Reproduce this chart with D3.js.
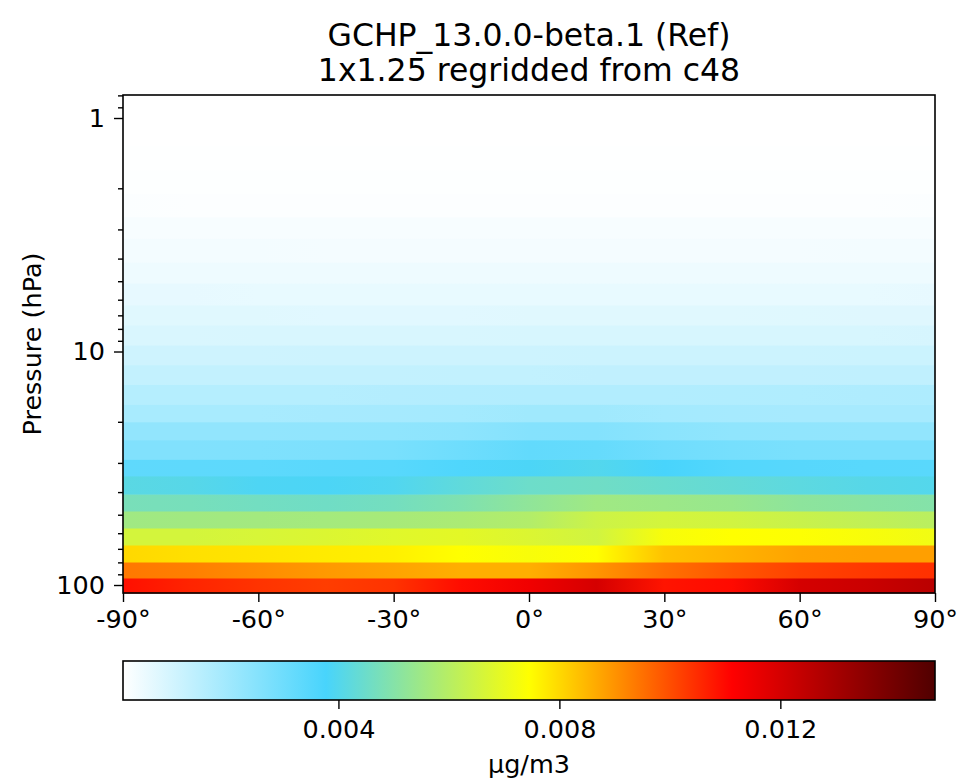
<!DOCTYPE html>
<html>
<head>
<meta charset="utf-8">
<script src="https://cdn.jsdelivr.net/npm/d3@7"></script>
<style>
body { margin: 0; background: #fff; }
text { font-family: "DejaVu Sans", sans-serif; fill: #000; }
</style>
</head>
<body>
<svg id="chart" width="959" height="783"></svg>
<script>
const lats = [-90, -75, -60, -45, -30, -15, 0, 15, 30, 45, 60, 75, 90];

// level edges (hPa), from the bottom up
const pEdges = [108.2, 93.3, 79.7, 67.4, 57.0, 48.2, 40.8, 34.1, 28.9, 23.9, 20.0, 16.8,
  13.8, 11.4, 9.38, 7.70, 6.32, 5.09, 4.14, 3.27, 2.65, 2.10, 1.67, 1.31, 1.02, 0.797];

// zonal mean concentration per level (ug/m3), bottom level first
const lev00 = [0.01091, 0.01061, 0.01039, 0.01024, 0.01039, 0.01095, 0.01142, 0.01201, 0.01083, 0.01098, 0.01201, 0.01223, 0.01260];
const lev01 = [0.00939, 0.00929, 0.00911, 0.00892, 0.00877, 0.00860, 0.00860, 0.00899, 0.00951, 0.00988, 0.01017, 0.01032, 0.01043];
const lev02 = [0.00801, 0.00789, 0.00783, 0.00774, 0.00767, 0.00745, 0.00730, 0.00745, 0.00833, 0.00855, 0.00877, 0.00883, 0.00883];
const lev03 = [0.00657, 0.00657, 0.00664, 0.00672, 0.00683, 0.00689, 0.00672, 0.00650, 0.00730, 0.00745, 0.00741, 0.00730, 0.00716];
const lev04 = [0.00554, 0.00557, 0.00560, 0.00563, 0.00569, 0.00576, 0.00591, 0.00642, 0.00657, 0.00650, 0.00635, 0.00620, 0.00605];
const lev05 = [0.00475, 0.00472, 0.00463, 0.00458, 0.00466, 0.00488, 0.00522, 0.00554, 0.00547, 0.00539, 0.00517, 0.00507, 0.00498];
const lev06 = [0.00414, 0.00407, 0.00389, 0.00386, 0.00395, 0.00425, 0.00451, 0.00458, 0.00444, 0.00433, 0.00419, 0.00407, 0.00401];
const lev07 = [0.00331, 0.00333, 0.00336, 0.00341, 0.00345, 0.00363, 0.00385, 0.00400, 0.00378, 0.00356, 0.00348, 0.00345, 0.00344];
const lev08 = [0.00263, 0.00264, 0.00267, 0.00272, 0.00279, 0.00301, 0.00326, 0.00319, 0.00297, 0.00285, 0.00278, 0.00275, 0.00275];
const lev09 = [0.00229, 0.00229, 0.00229, 0.00230, 0.00232, 0.00238, 0.00255, 0.00258, 0.00242, 0.00233, 0.00230, 0.00229, 0.00229];
const lev10 = [0.00185, 0.00185, 0.00185, 0.00186, 0.00188, 0.00192, 0.00200, 0.00201, 0.00193, 0.00189, 0.00187, 0.00186, 0.00186];
const lev11 = [0.00158, 0.00158, 0.00158, 0.00159, 0.00160, 0.00162, 0.00164, 0.00165, 0.00165, 0.00166, 0.00168, 0.00170, 0.00172];
const lev12 = [0.00130, 0.00130, 0.00131, 0.00131, 0.00131, 0.00132, 0.00133, 0.00134, 0.00134, 0.00134, 0.00135, 0.00136, 0.00137];
const lev13 = [0.00109, 0.00109, 0.00109, 0.00110, 0.00110, 0.00111, 0.00111, 0.00112, 0.00112, 0.00112, 0.00113, 0.00114, 0.00114];
const lev14 = [0.00087, 0.00087, 0.00088, 0.00088, 0.00089, 0.00089, 0.00090, 0.00090, 0.00090, 0.00090, 0.00091, 0.00091, 0.00092];
const lev15 = [0.00072, 0.00072, 0.00072, 0.00071, 0.00071, 0.00071, 0.00072, 0.00072, 0.00072, 0.00073, 0.00074, 0.00075, 0.00075];
const lev16 = [0.00058, 0.00058, 0.00057, 0.00056, 0.00056, 0.00056, 0.00056, 0.00056, 0.00056, 0.00057, 0.00057, 0.00057, 0.00058];
const lev17 = [0.00045, 0.00045, 0.00044, 0.00044, 0.00044, 0.00044, 0.00044, 0.00044, 0.00044, 0.00044, 0.00044, 0.00045, 0.00045];
const lev18 = [0.00035, 0.00034, 0.00034, 0.00033, 0.00033, 0.00033, 0.00033, 0.00033, 0.00033, 0.00033, 0.00033, 0.00034, 0.00034];
const lev19 = [0.00027, 0.00026, 0.00026, 0.00026, 0.00026, 0.00026, 0.00026, 0.00026, 0.00026, 0.00026, 0.00026, 0.00026, 0.00027];
const lev20 = [0.00018, 0.00017, 0.00017, 0.00017, 0.00017, 0.00017, 0.00017, 0.00017, 0.00017, 0.00017, 0.00017, 0.00017, 0.00018];
const lev21 = [0.00014, 0.00014, 0.00014, 0.00014, 0.00014, 0.00014, 0.00014, 0.00014, 0.00014, 0.00014, 0.00014, 0.00014, 0.00014];
const lev22 = [0.00012, 0.00012, 0.00012, 0.00012, 0.00012, 0.00012, 0.00012, 0.00012, 0.00012, 0.00012, 0.00012, 0.00012, 0.00012];
const lev23 = [0.000107, 0.000107, 0.000107, 0.000107, 0.000107, 0.000107, 0.000107, 0.000107, 0.000107, 0.000107, 0.000107, 0.000107, 0.000107];
const lev24 = [0.0001, 0.0001, 0.0001, 0.0001, 0.0001, 0.0001, 0.0001, 0.0001, 0.0001, 0.0001, 0.0001, 0.0001, 0.0001];

const levels = [lev00, lev01, lev02, lev03, lev04, lev05, lev06, lev07, lev08, lev09, lev10, lev11, lev12,
  lev13, lev14, lev15, lev16, lev17, lev18, lev19, lev20, lev21, lev22, lev23, lev24];

// axis ticks
const xTicks = [-90, -60, -30, 0, 30, 60, 90];
const yMajor = [1, 10, 100];
const yMinor = [0.8, 0.9, 2, 3, 4, 5, 6, 7, 8, 9, 20, 30, 40, 50, 60, 70, 80, 90];
const cbTicks = [0.004, 0.008, 0.012];

// colour range and the WhGrYlRd-like colour map
const vmin = 0.0001, vmax = 0.0148;
const cmapPos = [0, 0.25, 0.5, 0.75, 1];
const cmapColors = ["#ffffff", "#48d4fc", "#ffff00", "#ff0000", "#500000"];

const titleLines = ["GCHP_13.0.0-beta.1 (Ref)", "1x1.25 regridded from c48"];
const yLabel = "Pressure (hPa)";
const unitLabel = "\u00b5g/m3";

const svg = d3.select("#chart");
const defs = svg.append("defs");

const plotLeft = 123, plotRight = 935, plotTop = 95, plotBottom = 593;
const tickFont = 25.5;

var x = d3.scaleLinear().domain([-90, 90]).range([plotLeft, plotRight]);
var y = d3.scaleLog().domain([pEdges[0], pEdges[pEdges.length - 1]]).range([plotBottom, plotTop]);

var color = d3.scaleLinear()
  .domain(cmapPos.map(t => vmin + t * (vmax - vmin)))
  .range(cmapColors)
  .clamp(true);

//One gradient per level, stops at the latitudes that were read

levels.forEach(function (vals, i) {
  var g = defs.append("linearGradient").attr("id", "lev" + i);
  vals.forEach(function (v, j) {
    g.append("stop")
      .attr("offset", (x(lats[j]) - plotLeft) / (plotRight - plotLeft))
      .attr("stop-color", color(v));
  });
});

svg.append("g")
  .selectAll("rect")
  .data(levels)
  .enter()
  .append("rect")
  .attr("x", x(-90))
  .attr("width", x(90) - x(-90))
  .attr("y", (d, i) => y(pEdges[i + 1]))
  .attr("height", (d, i) => y(pEdges[i]) - y(pEdges[i + 1]) + 0.5)
  .attr("fill", (d, i) => "url(#lev" + i + ")");

//Axes

var xAxis = d3.axisBottom(x)
  .tickValues(xTicks)
  .tickSize(9)
  .tickPadding(8)
  .tickFormat(d => d + "\u00b0");

var gx = svg.append("g")
  .attr("transform", "translate(0," + plotBottom + ")")
  .call(xAxis);

var yAxis = d3.axisLeft(y)
  .tickValues(yMajor)
  .tickSize(9)
  .tickPadding(9)
  .tickFormat(d3.format("d"));

var gy = svg.append("g")
  .attr("transform", "translate(" + plotLeft + ",0)")
  .call(yAxis);

var yAxisMinor = d3.axisLeft(y)
  .tickValues(yMinor)
  .tickSize(5)
  .tickFormat("");

var gy2 = svg.append("g")
  .attr("transform", "translate(" + plotLeft + ",0)")
  .call(yAxisMinor);

[gx, gy, gy2].forEach(function (g) {
  g.select(".domain").remove();
  g.selectAll("line").attr("stroke", "#000").attr("stroke-width", 1.4);
  g.selectAll("text").style("font-size", tickFont + "px").style("font-family", "DejaVu Sans").attr("fill", "#000");
});

svg.append("rect")
  .attr("x", plotLeft).attr("y", plotTop)
  .attr("width", plotRight - plotLeft).attr("height", plotBottom - plotTop)
  .attr("fill", "none").attr("stroke", "#000").attr("stroke-width", 1.6);

//Titles and labels

svg.append("g")
  .selectAll("text")
  .data(titleLines)
  .enter()
  .append("text")
  .attr("x", (plotLeft + plotRight) / 2)
  .attr("y", (d, i) => 46 + i * 35)
  .attr("text-anchor", "middle")
  .style("font-size", "31.5px")
  .text(d => d);

svg.append("text")
  .attr("transform", "translate(41," + ((plotTop + plotBottom) / 2) + ") rotate(-90)")
  .attr("text-anchor", "middle")
  .style("font-size", tickFont + "px")
  .text(yLabel);

//Colour bar

const cbTop = 661, cbBottom = 700;

var cbGrad = defs.append("linearGradient").attr("id", "cbar");
cmapPos.forEach(function (t, j) {
  cbGrad.append("stop").attr("offset", t).attr("stop-color", cmapColors[j]);
});

var cbScale = d3.scaleLinear().domain([vmin, vmax]).range([plotLeft, plotRight]);

svg.append("rect")
  .attr("x", plotLeft).attr("y", cbTop)
  .attr("width", plotRight - plotLeft).attr("height", cbBottom - cbTop)
  .attr("fill", "url(#cbar)")
  .attr("stroke", "#000").attr("stroke-width", 1.6);

var cbAxis = d3.axisBottom(cbScale)
  .tickValues(cbTicks)
  .tickSize(9)
  .tickPadding(11)
  .tickFormat(d3.format(".3f"));

var gcb = svg.append("g")
  .attr("transform", "translate(0," + cbBottom + ")")
  .call(cbAxis);
gcb.select(".domain").remove();
gcb.selectAll("line").attr("stroke", "#000").attr("stroke-width", 1.4);
gcb.selectAll("text").style("font-size", tickFont + "px").style("font-family", "DejaVu Sans").attr("fill", "#000");

svg.append("text")
  .attr("x", (plotLeft + plotRight) / 2)
  .attr("y", 773)
  .attr("text-anchor", "middle")
  .style("font-size", tickFont + "px")
  .text(unitLabel);
</script>
</body>
</html>
